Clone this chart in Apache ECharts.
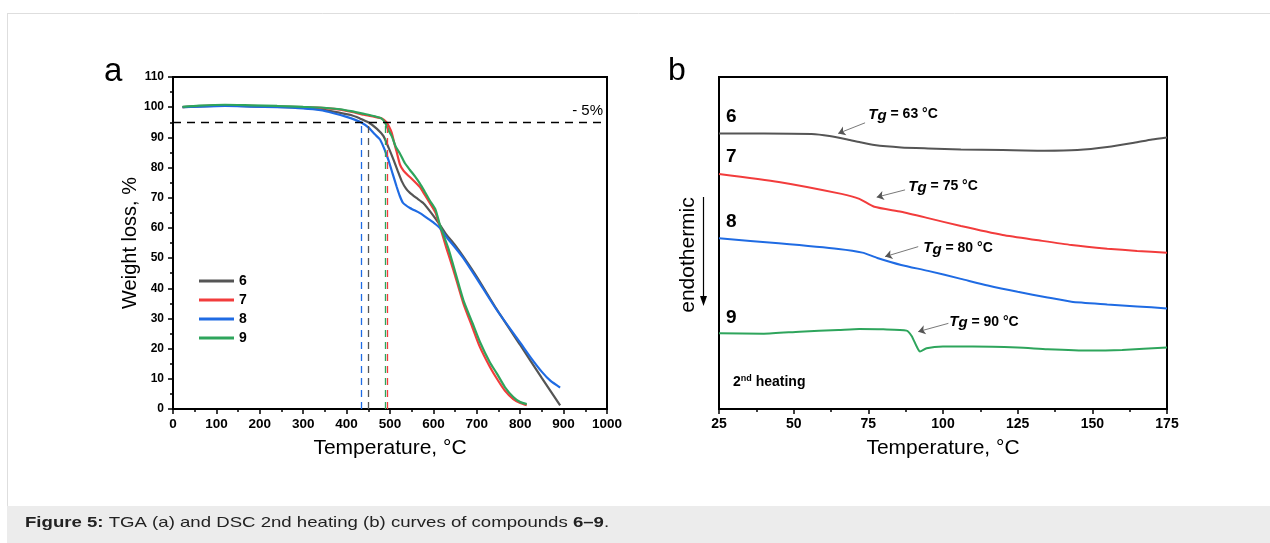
<!DOCTYPE html>
<html>
<head>
<meta charset="utf-8">
<title>TGA and DSC curves</title>
<script src="https://cdn.jsdelivr.net/npm/echarts@6/dist/echarts.min.js"></script>
<style>
html, body { margin: 0; padding: 0; background: #fff; }
#main { width: 1270px; height: 543px; }
</style>
</head>
<body>
<div id="main"></div>
<script>
// compounds and their colours
var names = ['6', '7', '8', '9'];
var colors = ['#555555', '#f23c3c', '#1f6be3', '#2ea55c'];
var FONT = '"Liberation Sans", Arial, Helvetica, sans-serif';

// TGA (a): [temperature °C, weight %]
var tga6 = [[22,100.0],[60,100.3],[120,100.5],[180,100.3],[240,100.1],[300,99.8],[340,99.3],[380,98.3],[410,97.4],[430,96.3],[450,95.0],[470,92.8],[485,90.4],[497,86.5],[508,82.6],[518,78.8],[527,75.5],[537,73.0],[546,71.6],[560,70.0],[577,68.2],[595,65.0],[615,61.0],[630,57.8],[650,54.3],[669,50.5],[700,43.8],[746,33.0],[800,21.2],[850,10.2],[892,1.2]];
var tga7 = [[22,100.0],[60,100.4],[120,100.6],[180,100.4],[240,100.2],[300,100.0],[340,99.8],[380,99.3],[410,98.5],[440,97.5],[465,96.8],[480,96.3],[492,95.0],[498,93.5],[504,91.5],[510,88.0],[515,85.4],[523,81.0],[531,79.0],[540,77.6],[550,76.3],[569,73.5],[580,71.0],[592,68.2],[605,65.0],[615,60.5],[630,53.3],[646,46.1],[669,35.0],[690,27.0],[707,20.6],[730,14.0],[746,10.1],[765,6.0],[784,3.3],[800,2.0],[815,1.3]];
var tga8 = [[22,100.0],[60,100.2],[120,100.4],[180,100.2],[240,100.0],[300,99.6],[340,99.0],[370,98.0],[400,96.8],[420,95.8],[433,95.0],[450,93.3],[465,91.0],[477,89.3],[488,85.8],[496,82.6],[506,78.0],[515,73.8],[522,70.8],[530,68.3],[546,66.6],[569,64.9],[590,62.8],[600,61.8],[615,60.0],[630,57.0],[650,53.5],[669,50.0],[700,43.2],[746,32.8],[800,22.0],[823,17.3],[850,12.3],[870,9.3],[892,7.1]];
var tga9 = [[22,100.1],[60,100.5],[120,100.8],[180,100.6],[240,100.4],[300,100.1],[340,99.9],[380,99.4],[410,98.7],[440,97.8],[465,97.0],[480,96.3],[488,95.0],[496,92.5],[504,90.4],[513,87.0],[523,84.6],[534,81.5],[546,79.2],[558,77.0],[569,74.7],[580,72.0],[592,69.0],[605,66.0],[615,61.0],[635,53.0],[648,46.5],[669,36.1],[690,28.5],[707,22.3],[730,15.5],[746,11.8],[765,7.2],[784,4.0],[800,2.3],[815,1.6]];
var tgaData = [tga6, tga7, tga8, tga9];
var onsetT = [450, 494, 433, 488];   // temperature at 5% loss
var lossLevel = 95;

// DSC (b): temperature °C and heat flow (arbitrary units, shifted)
var dsc6T = [25, 40, 56, 62, 68, 72, 77, 86, 95, 106, 120, 134, 145, 155, 164, 170, 175];
var dsc6V = [83.0, 83.0, 82.8, 82.2, 81.2, 80.4, 79.5, 78.8, 78.5, 78.2, 78.0, 77.8, 78.0, 78.9, 80.2, 81.2, 81.8];
var dsc7T = [25, 45, 66, 72, 77, 86, 95, 106, 120, 132, 143, 155, 165, 175];
var dsc7V = [70.8, 68.4, 64.8, 63.3, 60.9, 59.4, 57.5, 55.1, 52.4, 50.8, 49.4, 48.3, 47.6, 47.1];
var dsc8T = [25, 45, 65, 73, 78, 86, 95, 106, 115, 125, 135, 143, 155, 165, 175];
var dsc8V = [51.4, 49.9, 48.2, 47.1, 45.5, 43.4, 41.6, 39.2, 37.2, 35.3, 33.6, 32.3, 31.5, 30.9, 30.3];
var dsc9T = [25, 40, 52, 65, 72, 80, 87.8, 89.5, 91.2, 92.3, 94.5, 100, 110, 125, 135, 149, 160, 175];
var dsc9V = [22.8, 22.7, 23.3, 23.8, 24.1, 24.0, 23.6, 22.0, 18.8, 17.3, 18.3, 18.8, 18.8, 18.5, 18.0, 17.6, 17.8, 18.5];
var dscT = [dsc6T, dsc7T, dsc8T, dsc9T];
var dscV = [dsc6V, dsc7V, dsc8V, dsc9V];

// glass transitions and where their labels/arrows sit
var tgValues = [63, 75, 80, 90];
var tgLabelAt = [[75.0, 88.7], [88.4, 67.0], [93.4, 48.4], [102.1, 26.3]];
var tgArrowFrom = [[73.9, 86.2], [87.3, 66.0], [91.7, 48.9], [101.8, 25.8]];
var tgArrowTo = [[64.9, 83.0], [77.8, 63.8], [80.6, 45.9], [91.7, 23.3]];

var chart = echarts.init(document.getElementById('main'));

function zip(xs, ys) {
    var out = [];
    for (var i = 0; i < xs.length; i++) out.push([xs[i], ys[i]]);
    return out;
}

function valueAxis(grid, min, max, interval, opts) {
    var ax = {
        type: 'value', gridIndex: grid, min: min, max: max, interval: interval,
        axisLine: { show: true, onZero: false, lineStyle: { color: '#000', width: 2 } },
        axisTick: { show: true, inside: false, length: 5, lineStyle: { color: '#000', width: 1.5 } },
        minorTick: { show: true, splitNumber: 2, length: 3, lineStyle: { color: '#000', width: 1.5 } },
        axisLabel: {
            color: '#000', fontWeight: 'bold', fontSize: 13.5, fontFamily: FONT, margin: 8,
            formatter: function (v) { return String(v); }
        },
        splitLine: { show: false },
        minorSplitLine: { show: false }
    };
    for (var k in opts) ax[k] = opts[k];
    return ax;
}

var series = [];

tgaData.forEach(function (d, i) {
    var lines = [[{ coord: [onsetT[i], 0] }, { coord: [onsetT[i], lossLevel] }]];
    if (i === 0) {
        lines.push({
            yAxis: lossLevel,
            lineStyle: { color: '#000', type: [8, 6], width: 1.3 },
            label: { show: true, position: 'insideEndTop', formatter: '- 5%', color: '#000', fontSize: 15, fontFamily: FONT, distance: 4 }
        });
    }
    series.push({
        name: names[i], type: 'line', xAxisIndex: 0, yAxisIndex: 0,
        data: d, showSymbol: false, smooth: 0.2,
        lineStyle: { color: colors[i], width: 2.2 }, itemStyle: { color: colors[i] },
        markLine: {
            silent: true, symbol: 'none', animation: false,
            lineStyle: { color: colors[i], type: [7, 5], width: 1.3 },
            label: { show: false },
            data: lines
        }
    });
});

dscT.forEach(function (t, i) {
    series.push({
        name: 'dsc' + names[i], type: 'line', xAxisIndex: 1, yAxisIndex: 1,
        data: zip(t, dscV[i]), showSymbol: false, smooth: 0.2,
        lineStyle: { color: colors[i], width: 2 }, itemStyle: { color: colors[i] },
        markLine: {
            silent: true, animation: false, symbol: ['none', 'arrow'], symbolSize: 7,
            lineStyle: { color: '#555', type: 'solid', width: 0.8 },
            label: { show: false },
            data: [[{ coord: tgArrowFrom[i] }, { coord: tgArrowTo[i] }]]
        },
        markPoint: {
            silent: true, animation: false, symbol: 'circle', symbolSize: 0,
            label: {
                show: true, position: 'right', distance: 0,
                formatter: '{t|T}{g|g}{n| = ' + tgValues[i] + ' °C}',
                rich: {
                    t: { fontSize: 15, fontWeight: 'bold', fontStyle: 'italic', color: '#000', fontFamily: FONT },
                    g: { fontSize: 15, fontWeight: 'bold', fontStyle: 'italic', color: '#000', fontFamily: FONT, padding: [3, 0, 0, 0] },
                    n: { fontSize: 14, fontWeight: 'bold', color: '#000', fontFamily: FONT }
                }
            },
            data: [{ coord: tgLabelAt[i] }]
        }
    });
});

var option = {
    animation: false,
    backgroundColor: '#fff',
    grid: [
        { left: 173, top: 77, width: 434, height: 332, show: true, borderColor: '#000', borderWidth: 2, backgroundColor: 'transparent', outerBoundsMode: 'none' },
        { left: 719, top: 77, width: 448, height: 332, show: true, borderColor: '#000', borderWidth: 2, backgroundColor: 'transparent', outerBoundsMode: 'none' }
    ],
    xAxis: [
        valueAxis(0, 0, 1000, 100, {
            name: 'Temperature, °C', nameLocation: 'middle', nameGap: 29,
            nameTextStyle: { fontSize: 21, color: '#000', fontFamily: FONT }
        }),
        valueAxis(1, 25, 175, 25, {
            name: 'Temperature, °C', nameLocation: 'middle', nameGap: 29,
            nameTextStyle: { fontSize: 21, color: '#000', fontFamily: FONT },
            axisLabel: { color: '#000', fontWeight: 'bold', fontSize: 14, fontFamily: FONT, margin: 8 }
        })
    ],
    yAxis: [
        valueAxis(0, 0, 110, 10, {
            name: 'Weight loss, %', nameLocation: 'middle', nameGap: 31,
            nameTextStyle: { fontSize: 20, color: '#000', fontFamily: FONT },
            axisLabel: { color: '#000', fontWeight: 'bold', fontSize: 12, fontFamily: FONT, margin: 9 }
        }),
        valueAxis(1, 0, 100, 20, {
            axisTick: { show: false }, minorTick: { show: false }, axisLabel: { show: false }
        })
    ],
    legend: {
        data: names, orient: 'vertical', left: 199, top: 274, padding: 0,
        icon: 'rect', itemWidth: 35, itemHeight: 3, itemGap: 5,
        selectedMode: false,
        textStyle: { fontSize: 14, fontWeight: 'bold', color: '#000', fontFamily: FONT, lineHeight: 14 }
    },
    graphic: [
        // page frame and caption band
        { type: 'line', shape: { x1: 7, y1: 13.5, x2: 1270, y2: 13.5 }, style: { stroke: '#dedede', lineWidth: 1 }, silent: true },
        { type: 'line', shape: { x1: 7.5, y1: 13, x2: 7.5, y2: 506 }, style: { stroke: '#dedede', lineWidth: 1 }, silent: true },
        { type: 'rect', shape: { x: 7, y: 506, width: 1263, height: 37 }, style: { fill: '#ececec' }, silent: true },
        {
            type: 'text', x: 25, y: 523, scaleX: 1.24, silent: true,
            style: {
                text: '{b|Figure 5:}{n| TGA (a) and DSC 2nd heating (b) curves of compounds }{b|6–9}{n|.}',
                verticalAlign: 'middle',
                rich: {
                    b: { fontSize: 15, fontWeight: 'bold', fill: '#222', fontFamily: FONT },
                    n: { fontSize: 15, fill: '#222', fontFamily: FONT }
                }
            }
        },
        // panel letters
        { type: 'text', x: 104, y: 88, silent: true, style: { text: 'a', fontSize: 33, fill: '#000', fontFamily: FONT, verticalAlign: 'bottom' } },
        { type: 'text', x: 668, y: 87, silent: true, style: { text: 'b', fontSize: 32, fill: '#000', fontFamily: FONT, verticalAlign: 'bottom' } },
        // DSC curve labels
        { type: 'text', x: 726, y: 117, silent: true, style: { text: '6', fontSize: 19, fontWeight: 'bold', fill: '#000', fontFamily: FONT, verticalAlign: 'middle' } },
        { type: 'text', x: 726, y: 157, silent: true, style: { text: '7', fontSize: 19, fontWeight: 'bold', fill: '#000', fontFamily: FONT, verticalAlign: 'middle' } },
        { type: 'text', x: 726, y: 222, silent: true, style: { text: '8', fontSize: 19, fontWeight: 'bold', fill: '#000', fontFamily: FONT, verticalAlign: 'middle' } },
        { type: 'text', x: 726, y: 318, silent: true, style: { text: '9', fontSize: 19, fontWeight: 'bold', fill: '#000', fontFamily: FONT, verticalAlign: 'middle' } },
        // endothermic direction
        { type: 'text', x: 688, y: 255, rotation: Math.PI / 2, silent: true, style: { text: 'endothermic', fontSize: 21, fill: '#000', fontFamily: FONT, align: 'center', verticalAlign: 'middle' } },
        { type: 'line', shape: { x1: 703.5, y1: 197, x2: 703.5, y2: 299 }, style: { stroke: '#000', lineWidth: 1.2 }, silent: true },
        { type: 'polygon', shape: { points: [[700, 296], [707, 296], [703.5, 306]] }, style: { fill: '#000' }, silent: true },
        {
            type: 'text', x: 733, y: 382, silent: true,
            style: {
                text: '{a|2}{s|nd}{a| heating}',
                verticalAlign: 'middle',
                rich: {
                    a: { fontSize: 14, fontWeight: 'bold', fill: '#000', fontFamily: FONT, lineHeight: 16 },
                    s: { fontSize: 9, fontWeight: 'bold', fill: '#000', fontFamily: FONT, lineHeight: 10, verticalAlign: 'top' }
                }
            }
        }
    ],
    series: series
};

chart.setOption(option);

window.onresize = function () {
    chart.resize();
};
</script>
</body>
</html>
